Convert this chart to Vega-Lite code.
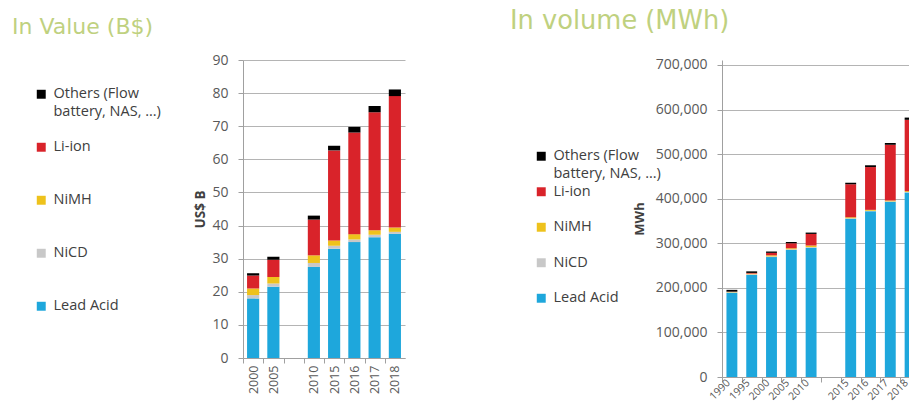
{
  "$schema": "https://vega.github.io/schema/vega-lite/v6.json",
  "background": "white",
  "padding": {"left": 12, "top": 8, "right": 0, "bottom": 0},
  "spacing": 105,
  "config": {
    "view": {"stroke": null},
    "font": "Open Sans",
    "style": {"guide-label": {"lineHeight": 18}},
    "axis": {"labelColor": "#595959", "titleColor": "#404040", "gridColor": "#b4b4b4", "domainColor": "#a0a0a0", "tickColor": "#a0a0a0", "labelFont": "Open Sans", "titleFont": "Open Sans"},
    "legend": {"labelFont": "Open Sans", "labelColor": "#404040", "labelFontSize": 14.5, "labelOffset": 5, "symbolType": "square", "symbolSize": 80, "symbolStrokeWidth": 0, "orient": "left", "gridAlign": "all"}
  },
  "resolve": {"scale": {"color": "independent"}, "legend": {"color": "independent"}},
  "datasets": {
    "value": [
      {"year": "2000", "type": "Lead Acid", "v": 18}, {"year": "2000", "type": "NiCD", "v": 1}, {"year": "2000", "type": "NiMH", "v": 2}, {"year": "2000", "type": "Li-ion", "v": 3.9}, {"year": "2000", "type": "Others", "v": 0.7},
      {"year": "2005", "type": "Lead Acid", "v": 21.5}, {"year": "2005", "type": "NiCD", "v": 1}, {"year": "2005", "type": "NiMH", "v": 2}, {"year": "2005", "type": "Li-ion", "v": 5.2}, {"year": "2005", "type": "Others", "v": 0.9},
      {"year": "2010", "type": "Lead Acid", "v": 27.5}, {"year": "2010", "type": "NiCD", "v": 1.2}, {"year": "2010", "type": "NiMH", "v": 2.3}, {"year": "2010", "type": "Li-ion", "v": 10.8}, {"year": "2010", "type": "Others", "v": 1.2},
      {"year": "2015", "type": "Lead Acid", "v": 33}, {"year": "2015", "type": "NiCD", "v": 0.9}, {"year": "2015", "type": "NiMH", "v": 1.6}, {"year": "2015", "type": "Li-ion", "v": 27.2}, {"year": "2015", "type": "Others", "v": 1.4},
      {"year": "2016", "type": "Lead Acid", "v": 35}, {"year": "2016", "type": "NiCD", "v": 0.8}, {"year": "2016", "type": "NiMH", "v": 1.6}, {"year": "2016", "type": "Li-ion", "v": 30.7}, {"year": "2016", "type": "Others", "v": 1.7},
      {"year": "2017", "type": "Lead Acid", "v": 36.5}, {"year": "2017", "type": "NiCD", "v": 0.7}, {"year": "2017", "type": "NiMH", "v": 1.4}, {"year": "2017", "type": "Li-ion", "v": 35.6}, {"year": "2017", "type": "Others", "v": 1.9},
      {"year": "2018", "type": "Lead Acid", "v": 37.5}, {"year": "2018", "type": "NiCD", "v": 0.6}, {"year": "2018", "type": "NiMH", "v": 1.3}, {"year": "2018", "type": "Li-ion", "v": 39.7}, {"year": "2018", "type": "Others", "v": 2.0}
    ],
    "volume": [
      {"year": "1990", "type": "Lead Acid", "v": 189000}, {"year": "1990", "type": "NiCD", "v": 1000}, {"year": "1990", "type": "NiMH", "v": 1000}, {"year": "1990", "type": "Li-ion", "v": 500}, {"year": "1990", "type": "Others", "v": 4000},
      {"year": "1995", "type": "Lead Acid", "v": 229000}, {"year": "1995", "type": "NiCD", "v": 1500}, {"year": "1995", "type": "NiMH", "v": 1500}, {"year": "1995", "type": "Li-ion", "v": 1500}, {"year": "1995", "type": "Others", "v": 3500},
      {"year": "2000", "type": "Lead Acid", "v": 269000}, {"year": "2000", "type": "NiCD", "v": 1500}, {"year": "2000", "type": "NiMH", "v": 2500}, {"year": "2000", "type": "Li-ion", "v": 5500}, {"year": "2000", "type": "Others", "v": 3000},
      {"year": "2005", "type": "Lead Acid", "v": 285000}, {"year": "2005", "type": "NiCD", "v": 1500}, {"year": "2005", "type": "NiMH", "v": 2500}, {"year": "2005", "type": "Li-ion", "v": 11000}, {"year": "2005", "type": "Others", "v": 3000},
      {"year": "2010", "type": "Lead Acid", "v": 290000}, {"year": "2010", "type": "NiCD", "v": 1500}, {"year": "2010", "type": "NiMH", "v": 3500}, {"year": "2010", "type": "Li-ion", "v": 26000}, {"year": "2010", "type": "Others", "v": 3000},
      {"year": "2015", "type": "Lead Acid", "v": 355000}, {"year": "2015", "type": "NiCD", "v": 1000}, {"year": "2015", "type": "NiMH", "v": 2500}, {"year": "2015", "type": "Li-ion", "v": 74000}, {"year": "2015", "type": "Others", "v": 3500},
      {"year": "2016", "type": "Lead Acid", "v": 372000}, {"year": "2016", "type": "NiCD", "v": 1000}, {"year": "2016", "type": "NiMH", "v": 2000}, {"year": "2016", "type": "Li-ion", "v": 96000}, {"year": "2016", "type": "Others", "v": 4000},
      {"year": "2017", "type": "Lead Acid", "v": 393000}, {"year": "2017", "type": "NiCD", "v": 1000}, {"year": "2017", "type": "NiMH", "v": 2000}, {"year": "2017", "type": "Li-ion", "v": 125000}, {"year": "2017", "type": "Others", "v": 4000},
      {"year": "2018", "type": "Lead Acid", "v": 414000}, {"year": "2018", "type": "NiCD", "v": 1000}, {"year": "2018", "type": "NiMH", "v": 2000}, {"year": "2018", "type": "Li-ion", "v": 160000}, {"year": "2018", "type": "Others", "v": 5000}
    ]
  },
  "hconcat": [
    {
      "title": {"text": "In Value (B$)", "anchor": "start", "frame": "bounds", "font": "DejaVu Sans", "fontSize": 22, "fontWeight": "normal", "color": "#bfd17f", "offset": 14, "dx": -22},
      "width": 162,
      "height": 298,
      "data": {"name": "value"},
      "transform": [{"calculate": "indexof(['Lead Acid', 'NiCD', 'NiMH', 'Li-ion', 'Others'], datum.type)", "as": "stackOrder"}],
      "mark": {"type": "bar"},
      "encoding": {
        "x": {"field": "year", "type": "nominal",
          "scale": {"domain": ["2000", "2005", " ", "2010", "2015", "2016", "2017", "2018"], "paddingInner": 0.4, "paddingOuter": 0.2},
          "axis": {"title": null, "labelAngle": -90, "labelFontSize": 12.5, "tickSize": 5, "tickOffset": -10.125, "labelOffset": 10.125, "labelPadding": 2}},
        "y": {"field": "v", "type": "quantitative", "stack": "zero",
          "scale": {"domain": [0, 90]},
          "axis": {"title": "US$ B", "titleFontWeight": "bold", "titleFontSize": 13.5, "titlePadding": 4, "values": [0, 10, 20, 30, 40, 50, 60, 70, 80, 90], "labelFontSize": 14, "domain": true, "ticks": true, "tickSize": 5, "labelPadding": 10}},
        "order": {"field": "stackOrder", "type": "quantitative", "sort": "ascending"},
        "color": {"field": "type", "type": "nominal",
          "scale": {"domain": ["Others", "Li-ion", "NiMH", "NiCD", "Lead Acid"], "range": ["#000000", "#d9232a", "#eec21c", "#c8c8c8", "#1ea7dc"]},
          "legend": {"title": " ", "titleFontSize": 2, "titlePadding": 25, "rowPadding": 20, "offset": 32,
            "labelExpr": "datum.value == 'Others' ? ['Others (Flow', 'battery, NAS, ...)'] : datum.label"}}
      }
    },
    {
      "title": {"text": "In volume (MWh)", "anchor": "start", "frame": "bounds", "font": "DejaVu Sans", "fontSize": 25.7, "fontWeight": "normal", "color": "#bfd17f", "offset": 23, "dx": -24},
      "width": 198,
      "height": 317,
      "data": {"name": "volume"},
      "transform": [{"calculate": "indexof(['Lead Acid', 'NiCD', 'NiMH', 'Li-ion', 'Others'], datum.type)", "as": "stackOrder"}],
      "mark": {"type": "bar"},
      "encoding": {
        "x": {"field": "year", "type": "nominal",
          "scale": {"domain": ["1990", "1995", "2000", "2005", "2010", " ", "2015", "2016", "2017", "2018"], "paddingInner": 0.45, "paddingOuter": 0.225},
          "axis": {"title": null, "labelAngle": -45, "labelBaseline": "middle", "labelFontSize": 10.5, "tickSize": 5, "tickOffset": -9.9, "labelOffset": 6, "labelPadding": -1}},
        "y": {"field": "v", "type": "quantitative", "stack": "zero",
          "scale": {"domain": [0, 711200], "nice": false},
          "axis": {"title": "MWh", "titleFontWeight": "bold", "titleFontSize": 13, "titlePadding": 9, "format": ",d", "values": [0, 100000, 200000, 300000, 400000, 500000, 600000, 700000], "labelFontSize": 14, "domain": true, "ticks": true, "tickSize": 5, "labelPadding": 10}},
        "order": {"field": "stackOrder", "type": "quantitative", "sort": "ascending"},
        "color": {"field": "type", "type": "nominal",
          "scale": {"domain": ["Others", "Li-ion", "NiMH", "NiCD", "Lead Acid"], "range": ["#000000", "#d9232a", "#eec21c", "#c8c8c8", "#1ea7dc"]},
          "legend": {"title": " ", "titleFontSize": 2, "titlePadding": 87, "rowPadding": 2.5, "offset": -28,
            "labelExpr": "datum.value == 'Others' ? ['Others (Flow', 'battery, NAS, ...)'] : datum.label"}}
      }
    }
  ]
}
